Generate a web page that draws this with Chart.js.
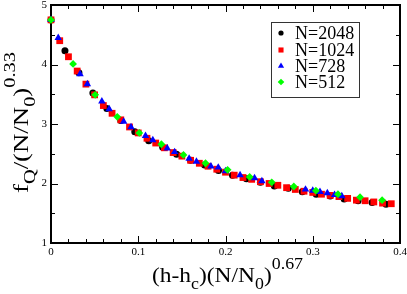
<!DOCTYPE html>
<html>
<head>
<meta charset="utf-8">
<script src="https://cdn.jsdelivr.net/npm/chart.js@4"></script>
<style>
  html, body { margin: 0; padding: 0; background: #fff; }
  canvas { display: block; }
</style>
</head>
<body>
<canvas id="chart" width="407" height="294"></canvas>
<script>
// Data
const seriesNames = ['N=2048', 'N=1024', 'N=728', 'N=512'];

const x2048 = [0, 0.016, 0.032, 0.048, 0.064, 0.080, 0.096, 0.112, 0.128, 0.144, 0.160, 0.176, 0.192,
  0.208, 0.224, 0.240, 0.256, 0.272, 0.288, 0.304, 0.320, 0.336, 0.352, 0.368, 0.384];
const y2048 = [4.75, 4.23, 3.86, 3.52, 3.26, 3.06, 2.87, 2.72, 2.61, 2.49, 2.39, 2.31, 2.22,
  2.14, 2.08, 2.02, 1.96, 1.92, 1.86, 1.82, 1.79, 1.74, 1.71, 1.68, 1.65];

const x1024 = [0, 0.01, 0.02, 0.03, 0.04, 0.05, 0.06, 0.07, 0.08, 0.09, 0.10, 0.11, 0.12, 0.13,
  0.14, 0.15, 0.16, 0.17, 0.18, 0.19, 0.20, 0.21, 0.22, 0.23, 0.24, 0.25, 0.26, 0.27, 0.28,
  0.29, 0.30, 0.31, 0.32, 0.33, 0.34, 0.35, 0.36, 0.37, 0.38, 0.39];
const y1024 = [4.75, 4.40, 4.13, 3.89, 3.67, 3.49, 3.31, 3.18, 3.07, 2.95, 2.85, 2.76, 2.68, 2.60,
  2.52, 2.46, 2.39, 2.34, 2.29, 2.24, 2.19, 2.14, 2.10, 2.07, 2.03, 2.00, 1.97, 1.93, 1.90,
  1.87, 1.85, 1.82, 1.80, 1.78, 1.75, 1.72, 1.71, 1.69, 1.67, 1.66];

const x728 = [0, 0.0083, 0.0333, 0.0417, 0.0583, 0.0667, 0.0833, 0.0917, 0.1083, 0.1167, 0.1333,
  0.1417, 0.1583, 0.1667, 0.1833, 0.1917, 0.2, 0.2167, 0.2333, 0.2417, 0.2917, 0.3, 0.3083,
  0.3167, 0.325, 0.3333];
const y728 = [4.75, 4.45, 3.84, 3.67, 3.38, 3.25, 3.04, 2.95, 2.80, 2.73, 2.59,
  2.53, 2.42, 2.37, 2.29, 2.27, 2.21, 2.14, 2.09, 2.04, 1.90, 1.88, 1.86,
  1.84, 1.81, 1.79];

const x512 = [0, 0.0253, 0.0506, 0.0759, 0.1012, 0.1265, 0.1518, 0.1771, 0.2024, 0.2277, 0.253,
  0.2783, 0.3036, 0.3289, 0.3542, 0.3795];
const y512 = [4.75, 4.01, 3.49, 3.12, 2.85, 2.66, 2.48, 2.34, 2.23, 2.11, 2.02,
  1.95, 1.88, 1.82, 1.77, 1.72];

const xTicks = [0, 0.1, 0.2, 0.3, 0.4];
const xTickLabels = ['0', '0.1', '0.2', '0.3', '0.4'];
const yTicks = [1, 2, 3, 4, 5];
const yTickLabels = ['1', '2', '3', '4', '5'];

const colors = ['#000000', '#ff0000', '#0000ff', '#00ff00'];
const styles = ['circle', 'rect', 'triangle', 'rectRot'];
const radii = [3.5, 4.8, 4.3, 3.9];
const legendRadii = [2.6, 3.6, 3.6, 3.3];

function pts(xs, ys) { return xs.map((x, i) => ({ x: x, y: ys[i] })); }
const allSeries = [pts(x2048, y2048), pts(x1024, y1024), pts(x728, y728), pts(x512, y512)];

const SERIF = '"Liberation Serif", "DejaVu Serif", serif';

// rich text with sub/superscripts, stretched to a given length
function drawRich(ctx, parts, x, y, len, angle) {
  ctx.save();
  ctx.translate(x, y);
  ctx.rotate(angle);
  let w = 0;
  parts.forEach(p => {
    ctx.font = (p[1] === 'n' ? 21 : 16) + 'px ' + SERIF;
    p.w = ctx.measureText(p[0]).width;
    w += p.w;
  });
  ctx.scale(len / w, 1);
  ctx.fillStyle = '#000';
  ctx.textBaseline = 'alphabetic';
  ctx.textAlign = 'left';
  let cx = 0;
  parts.forEach(p => {
    ctx.font = (p[1] === 'n' ? 21 : 16) + 'px ' + SERIF;
    const dy = p[1] === 'sub' ? 7 : p[1] === 'sup' ? -13 : 0;
    ctx.fillText(p[0], cx, dy);
    cx += p.w;
  });
  ctx.restore();
}

const frameAxes = {
  id: 'frameAxes',
  beforeDatasetsDraw(chart) {
    const ctx = chart.ctx, a = chart.chartArea;
    const xs = chart.scales.x, ys = chart.scales.y;
    ctx.save();
    ctx.strokeStyle = '#000';
    ctx.lineWidth = 1;
    // minor + major ticks, inward on all sides
    ctx.beginPath();
    for (let i = 0; i <= 20; i++) {
      const px = Math.round(xs.getPixelForValue(i * 0.02)) + 0.5;
      const l = i % 5 === 0 ? 7 : 4;
      ctx.moveTo(px, a.bottom); ctx.lineTo(px, a.bottom - l);
      ctx.moveTo(px, a.top); ctx.lineTo(px, a.top + l);
    }
    for (let i = 0; i <= 8; i++) {
      const py = Math.round(ys.getPixelForValue(1 + i * 0.5)) + 0.5;
      const l = i % 2 === 0 ? 7 : 4;
      ctx.moveTo(a.left, py); ctx.lineTo(a.left + l, py);
      ctx.moveTo(a.right, py); ctx.lineTo(a.right - l, py);
    }
    ctx.stroke();
    ctx.lineWidth = 2;
    ctx.strokeRect(a.left, a.top, a.right - a.left, a.bottom - a.top);

    // tick labels
    ctx.fillStyle = '#000';
    ctx.font = '11px ' + SERIF;
    ctx.textAlign = 'center';
    ctx.textBaseline = 'top';
    xTicks.forEach((v, i) => ctx.fillText(xTickLabels[i], xs.getPixelForValue(v), a.bottom + 4));
    ctx.textAlign = 'right';
    ctx.textBaseline = 'middle';
    yTicks.forEach((v, i) => ctx.fillText(yTickLabels[i], a.left - 4, ys.getPixelForValue(v)));
    ctx.restore();

    // axis titles
    drawRich(ctx, [['(h-h', 'n'], ['c', 'sub'], [')(N/N', 'n'], ['0', 'sub'], [')', 'n'], ['0.67', 'sup']],
      152, 282, 151, 0);
    drawRich(ctx, [['f', 'n'], ['Q', 'sub'], ['/(N/N', 'n'], ['0', 'sub'], [')', 'n'], ['0.33', 'sup']],
      28, 193, 141, -Math.PI / 2);
  },
  afterDraw(chart) {
    const ctx = chart.ctx;
    ctx.save();
    ctx.strokeStyle = '#333';
    ctx.lineWidth = 1;
    ctx.strokeRect(271.5, 22.5, 88, 75);
    ctx.font = '18px ' + SERIF;
    ctx.textAlign = 'left';
    ctx.textBaseline = 'middle';
    const rows = [33, 50, 66, 82];
    seriesNames.forEach((name, i) => {
      ctx.fillStyle = colors[i];
      Chart.helpers.drawPoint(ctx, { pointStyle: styles[i], radius: legendRadii[i], rotation: 0, borderWidth: 0 }, 281, rows[i]);
      ctx.fillStyle = '#000';
      ctx.fillText(name, 295, rows[i] + 1);
    });
    ctx.restore();
  }
};

new Chart(document.getElementById('chart'), {
  type: 'scatter',
  data: {
    datasets: allSeries.map((d, i) => ({
      label: seriesNames[i],
      data: d,
      pointStyle: styles[i],
      pointRadius: radii[i],
      backgroundColor: colors[i],
      borderColor: colors[i],
      borderWidth: 0,
      showLine: false,
      clip: false,
      order: 4 - i
    }))
  },
  options: {
    responsive: false,
    animation: false,
    devicePixelRatio: 1,
    layout: { padding: { left: 51, right: 7, top: 5, bottom: 51 } },
    plugins: { legend: { display: false }, tooltip: { enabled: false } },
    scales: {
      x: { type: 'linear', min: 0, max: 0.4, display: false },
      y: { type: 'linear', min: 1, max: 5, display: false }
    }
  },
  plugins: [frameAxes]
});
</script>
</body>
</html>
